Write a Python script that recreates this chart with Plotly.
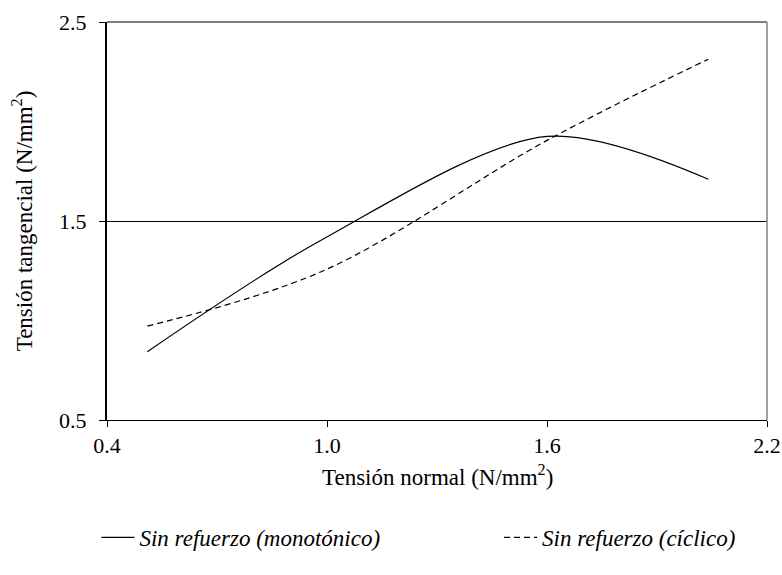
import plotly.graph_objects as go

# Tensión normal vs. tensión tangencial (N/mm²)
x_mono = [0.51, 0.99, 1.60, 2.04]
y_mono = [0.843, 1.41, 1.925, 1.71]

x_cic = [0.51, 0.99, 1.60, 2.04]
y_cic = [0.972, 1.25, 1.905, 2.313]

x_ticks = [0.4, 1.0, 1.6, 2.2]
x_ticklabels = ["0.4", "1.0", "1.6", "2.2"]
y_ticks = [0.5, 1.5, 2.5]
y_ticklabels = ["0.5", "1.5", "2.5"]

FONT = "Times New Roman"

fig = go.Figure()
fig.add_trace(go.Scatter(
    x=x_mono, y=y_mono, mode="lines",
    line=dict(color="black", width=1.2, shape="spline", smoothing=0.9),
    name="<i>Sin refuerzo (monotónico)</i>", legend="legend",
))
fig.add_trace(go.Scatter(
    x=x_cic, y=y_cic, mode="lines",
    line=dict(color="black", width=1.2, shape="spline", smoothing=1.0, dash="6px,4px"),
    name="<i>Sin refuerzo (cíclico)</i>", legend="legend2",
))

legend_style = dict(
    orientation="h", yanchor="middle", xanchor="left",
    font=dict(family=FONT, size=23), bgcolor="rgba(0,0,0,0)",
    itemwidth=33, tracegroupgap=0,
)

fig.update_layout(
    width=782, height=575,
    margin=dict(l=107, r=15, t=22, b=155, autoexpand=False),
    paper_bgcolor="white", plot_bgcolor="white",
    font=dict(family=FONT, size=22, color="black"),
    showlegend=True,
    legend=dict(x=-0.016, y=-0.295, **legend_style),
    legend2=dict(x=0.594, y=-0.295, **legend_style),
    xaxis=dict(
        range=[0.4, 2.2], tickvals=x_ticks, ticktext=x_ticklabels,
        showgrid=False, zeroline=False,
        showline=True, linecolor="black", linewidth=1, mirror=False,
        ticks="outside", ticklen=6, tickcolor="black",
        tickfont=dict(family=FONT, size=22),
    ),
    yaxis=dict(
        range=[0.5, 2.5], tickvals=y_ticks, ticktext=y_ticklabels,
        showgrid=True, gridcolor="black", gridwidth=1, zeroline=False,
        showline=True, linecolor="black", linewidth=2, mirror=False,
        ticks="outside", ticklen=6, tickcolor="black",
        ticklabelstandoff=8,
        tickfont=dict(family=FONT, size=22),
        title=dict(text="Tensión tangencial (N/mm<sup>2</sup>)", standoff=20,
                   font=dict(family=FONT, size=23)),
    ),
)

# x-axis title
fig.add_annotation(
    text="Tensión normal (N/mm<sup>2</sup>)", xref="paper", yref="paper",
    x=0.5, y=-0.14, xanchor="center", yanchor="middle", showarrow=False,
    font=dict(family=FONT, size=23, color="black"),
)

# Frame: top border black, right border gray
fig.add_shape(type="line", xref="paper", yref="paper", x0=0, x1=1, y0=1, y1=1,
              line=dict(color="black", width=1))
fig.add_shape(type="line", xref="paper", yref="paper", x0=1, x1=1, y0=0, y1=1,
              line=dict(color="#808080", width=1.5))

fig.write_html("out.html")
